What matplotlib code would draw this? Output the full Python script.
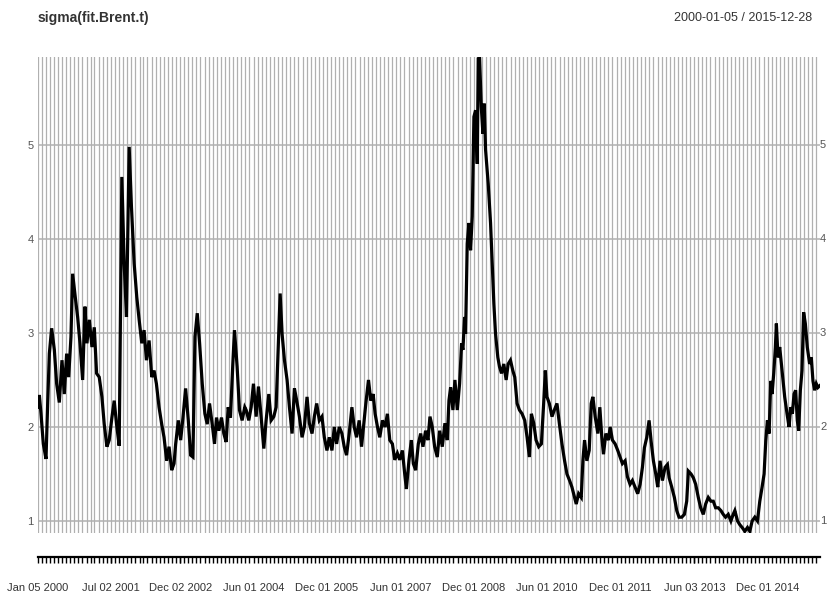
import pandas as pd
import matplotlib
matplotlib.use("Agg")
import matplotlib.pyplot as plt
import matplotlib.dates as mdates
import matplotlib.transforms as mtransforms

plt.rcParams["font.family"] = ["Liberation Sans", "DejaVu Sans"]

# sigma of the Brent GARCH fit (decimal year, sigma)
years = [
    2000.01, 2000.038, 2000.072, 2000.119, 2000.174, 2000.208, 2000.242, 2000.289, 2000.344, 2000.391,
    2000.445, 2000.500, 2000.547, 2000.595, 2000.636, 2000.683, 2000.717, 2000.771, 2000.819, 2000.867,
    2000.921, 2000.968, 2001.009, 2001.057, 2001.111, 2001.159, 2001.206, 2001.260, 2001.315, 2001.362,
    2001.417, 2001.464, 2001.519, 2001.566, 2001.614, 2001.668, 2001.722, 2001.770, 2001.817, 2001.872,
    2001.919, 2001.974, 2002.028, 2002.076, 2002.130, 2002.177, 2002.225, 2002.279, 2002.334, 2002.381,
    2002.429, 2002.483, 2002.537, 2002.585, 2002.639, 2002.687, 2002.741, 2002.789, 2002.823, 2002.877,
    2002.925, 2002.972, 2003.026, 2003.081, 2003.128, 2003.176, 2003.217, 2003.264, 2003.312, 2003.366,
    2003.420, 2003.468, 2003.515, 2003.570, 2003.617, 2003.658, 2003.706, 2003.760, 2003.807, 2003.855,
    2003.896, 2003.943, 2003.991, 2004.025, 2004.079, 2004.127, 2004.181, 2004.235,
    2004.263, 2004.317, 2004.365, 2004.412, 2004.467, 2004.514, 2004.568, 2004.623, 2004.670, 2004.725,
    2004.772, 2004.827, 2004.874, 2004.908, 2004.956, 2004.996, 2005.044, 2005.098, 2005.146, 2005.200,
    2005.248, 2005.295, 2005.350, 2005.404, 2005.451, 2005.506, 2005.553, 2005.608, 2005.655, 2005.703,
    2005.757, 2005.811, 2005.859, 2005.913, 2005.961, 2006.015, 2006.063, 2006.110, 2006.165, 2006.219,
    2006.266, 2006.314, 2006.368, 2006.423, 2006.470, 2006.518, 2006.572, 2006.620, 2006.660, 2006.708,
    2006.762, 2006.810, 2006.857, 2006.898, 2006.946, 2006.993, 2007.048, 2007.102, 2007.149, 2007.197,
    2007.251, 2007.299, 2007.353, 2007.401, 2007.455, 2007.503, 2007.537, 2007.591, 2007.638, 2007.679,
    2007.727, 2007.781, 2007.829, 2007.876, 2007.930, 2007.978, 2008.019, 2008.066, 2008.114, 2008.168,
    2008.216, 2008.270, 2008.324, 2008.372,
    2008.406, 2008.440, 2008.487, 2008.528, 2008.576, 2008.623, 2008.664, 2008.691, 2008.725, 2008.745,
    2008.779, 2008.813, 2008.847, 2008.881, 2008.915, 2008.949, 2008.983, 2009.003, 2009.031, 2009.065,
    2009.099, 2009.126, 2009.153, 2009.207, 2009.255, 2009.289, 2009.323, 2009.357, 2009.404, 2009.438,
    2009.479, 2009.526, 2009.574, 2009.615, 2009.662, 2009.710, 2009.750, 2009.798, 2009.846, 2009.900,
    2009.954, 2010.002, 2010.049, 2010.090, 2010.138, 2010.185, 2010.240, 2010.294, 2010.341, 2010.375,
    2010.409, 2010.457, 2010.511, 2010.559, 2010.613, 2010.661, 2010.715, 2010.769, 2010.817, 2010.871,
    2010.919, 2010.973, 2011.007, 2011.055, 2011.109, 2011.143, 2011.177, 2011.224, 2011.272, 2011.313,
    2011.347, 2011.394, 2011.449, 2011.489, 2011.530, 2011.564, 2011.612, 2011.666, 2011.700, 2011.747,
    2011.802, 2011.856, 2011.904, 2011.951, 2012.006, 2012.053, 2012.107, 2012.155, 2012.209, 2012.263,
    2012.312, 2012.359, 2012.400, 2012.448, 2012.495, 2012.536, 2012.583, 2012.631, 2012.672, 2012.719,
    2012.767, 2012.821, 2012.869, 2012.903, 2012.957, 2013.011, 2013.059, 2013.106, 2013.161, 2013.215,
    2013.263, 2013.297, 2013.351, 2013.398, 2013.446, 2013.500, 2013.548, 2013.602, 2013.650, 2013.704,
    2013.758, 2013.806, 2013.854, 2013.908, 2013.962, 2014.010, 2014.057, 2014.112, 2014.166, 2014.213,
    2014.247, 2014.302, 2014.349, 2014.397, 2014.451, 2014.505, 2014.553, 2014.601, 2014.655, 2014.709,
    2014.757, 2014.804, 2014.845, 2014.879, 2014.913, 2014.947, 2014.981, 2015.008, 2015.042, 2015.076,
    2015.096, 2015.130, 2015.164, 2015.198, 2015.232, 2015.266, 2015.314, 2015.355, 2015.389, 2015.423,
    2015.457, 2015.490, 2015.524, 2015.552, 2015.586, 2015.620, 2015.653, 2015.688, 2015.728, 2015.776,
    2015.810, 2015.844, 2015.878, 2015.912, 2015.946, 2015.986,
]
sigma = [
    2.21, 2.34, 2.14, 1.82, 1.66, 2.25, 2.78, 3.05, 2.82, 2.46,
    2.26, 2.71, 2.35, 2.78, 2.53, 2.96, 3.63, 3.38, 3.17, 2.89,
    2.50, 3.28, 2.89, 3.14, 2.85, 3.06, 2.57, 2.53, 2.32, 2.03,
    1.79, 1.86, 2.10, 2.28, 2.03, 1.80, 4.66, 3.74, 3.17, 4.98,
    4.34, 3.74, 3.38, 3.14, 2.89, 3.03, 2.71, 2.92, 2.53, 2.60,
    2.46, 2.21, 2.03, 1.89, 1.64, 1.79, 1.54, 1.61, 1.82, 2.07,
    1.86, 2.10, 2.41, 2.07, 1.70, 1.68, 2.96, 3.21, 2.89, 2.46,
    2.14, 2.03, 2.25, 2.03, 1.82, 2.10, 1.96, 2.10, 1.93, 1.84,
    2.21, 2.10, 2.67, 3.03, 2.64, 2.18, 2.07, 2.21,
    2.18, 2.07, 2.21, 2.46, 2.11, 2.43, 2.11, 1.77, 2.07, 2.35,
    2.07, 2.11, 2.21, 2.71, 3.42, 2.99, 2.71, 2.50, 2.21, 1.93,
    2.41, 2.28, 2.11, 1.89, 2.00, 2.32, 2.04, 1.93, 2.11, 2.25,
    2.07, 2.11, 1.89, 1.75, 1.89, 1.75, 2.00, 1.82, 2.00, 1.93,
    1.79, 1.70, 1.93, 2.21, 2.00, 1.89, 2.07, 1.79, 2.00, 2.25,
    2.50, 2.28, 2.35, 2.14, 2.00, 1.89, 2.07, 2.00, 2.14, 1.86,
    1.82, 1.65, 1.72, 1.65, 1.75, 1.50, 1.34, 1.65, 1.86, 1.61,
    1.54, 1.82, 1.93, 1.79, 1.96, 1.86, 2.11, 2.00, 1.79, 1.68,
    1.96, 1.79, 2.04, 1.86,
    2.28, 2.42, 2.18, 2.50, 2.18, 2.46, 2.89, 2.82, 3.17, 2.99,
    3.95, 4.17, 3.88, 4.24, 5.30, 5.37, 4.80, 5.92, 5.93, 5.41,
    5.12, 5.44, 4.95, 4.59, 4.17, 3.74, 3.31, 2.99, 2.74, 2.64,
    2.57, 2.67, 2.50, 2.67, 2.71, 2.60, 2.53, 2.25, 2.18, 2.14,
    2.07, 1.89, 1.68, 2.14, 2.04, 1.86, 1.79, 1.82, 2.25, 2.60,
    2.32, 2.25, 2.11, 2.18, 2.25, 2.04, 1.82, 1.64, 1.50, 1.43,
    1.36, 1.25, 1.18, 1.29, 1.25, 1.64, 1.86, 1.64, 1.75, 2.25,
    2.32, 2.11, 1.93, 2.21, 1.89, 1.71, 1.93, 1.86, 2.00, 1.86,
    1.82, 1.75, 1.68, 1.61, 1.64, 1.47, 1.39, 1.43, 1.36, 1.29,
    1.39, 1.57, 1.78, 1.89, 2.07, 1.85, 1.64, 1.50, 1.36, 1.64,
    1.43, 1.57, 1.60, 1.46, 1.36, 1.25, 1.11, 1.04, 1.04, 1.07,
    1.21, 1.53, 1.50, 1.46, 1.39, 1.25, 1.14, 1.07, 1.18, 1.25,
    1.21, 1.21, 1.14, 1.14, 1.11, 1.07, 1.04, 1.07, 1.00, 1.07,
    1.11, 1.00, 0.96, 0.93, 0.89, 0.93, 0.89, 1.00, 1.04, 1.00,
    1.21, 1.36, 1.50, 1.85, 2.07, 1.93, 2.49, 2.35, 2.57, 2.85,
    3.10, 2.74, 2.85, 2.67, 2.49, 2.32, 2.14, 2.00, 2.21, 2.14,
    2.35, 2.39, 2.07, 1.96, 2.39, 2.60, 3.22, 3.10, 2.85, 2.67,
    2.74, 2.49, 2.39, 2.46, 2.42, 2.44,
]

label_dates = ["2000-01-05", "2001-07-02", "2002-12-02", "2004-06-01", "2005-12-01", "2007-06-01",
               "2008-12-01", "2010-06-01", "2011-12-01", "2013-06-03", "2014-12-01"]
start, end = "2000-01-05", "2015-12-28"
yticks = [1, 2, 3, 4, 5]


def to_date(y):
    yr = int(y)
    first = pd.Timestamp(yr, 1, 1)
    ndays = (pd.Timestamp(yr + 1, 1, 1) - first).days
    return first + pd.Timedelta(days=(y - yr) * ndays)


dates = [to_date(y) for y in years]
t0, t1 = pd.Timestamp(start), pd.Timestamp(end)

fig = plt.figure(figsize=(8.28, 6), dpi=100)
ax = fig.add_axes([0.0459, 0.1117, 0.9445, 0.7933])

grey = "#b0b0b0"
months = [t0] + list(pd.date_range("2000-02-01", "2015-12-01", freq="MS"))
for m in months:
    ax.axvline(m, color=grey, lw=0.9, zorder=1)
for v in yticks:
    ax.axhline(v, color=grey, lw=1.1, zorder=1)

ax.plot(dates, sigma, color="black", lw=2.3, zorder=3, solid_joinstyle="miter")

ax.set_xlim(t0, t1)
ax.set_ylim(0.872, 5.936)

for s in ["top", "left", "right"]:
    ax.spines[s].set_visible(False)
ax.spines["bottom"].set_position(("outward", 17))
ax.spines["bottom"].set_linewidth(1.6)

ax.set_xticks([pd.Timestamp(d) for d in label_dates])
ax.xaxis.set_major_formatter(mdates.DateFormatter("%b %d %Y"))
ax.set_xticks(months, minor=True)
ax.tick_params(axis="x", which="both", length=4, width=1, color="black", direction="out")
ax.tick_params(axis="x", which="major", pad=15, labelsize=8, labelcolor="#333333")

ax.set_yticks(yticks)
ax.tick_params(axis="y", length=0, labelsize=8, labelcolor="#555555", pad=3)

# right-hand labels sit right at the plot edge
trans = mtransforms.blended_transform_factory(ax.transAxes, ax.transData)
for v in yticks:
    ax.text(1.0, v, str(v), transform=trans, fontsize=8, color="#555555",
            ha="left", va="center", clip_on=False)

fig.text(0.0459, 0.970, "sigma(fit.Brent.t)", fontsize=10, fontweight="bold",
         color="#333333", ha="left", va="center")
fig.text(0.981, 0.970, "2000-01-05 / 2015-12-28", fontsize=9, color="#333333",
         ha="right", va="center")

fig.savefig("out.png", dpi=100)
